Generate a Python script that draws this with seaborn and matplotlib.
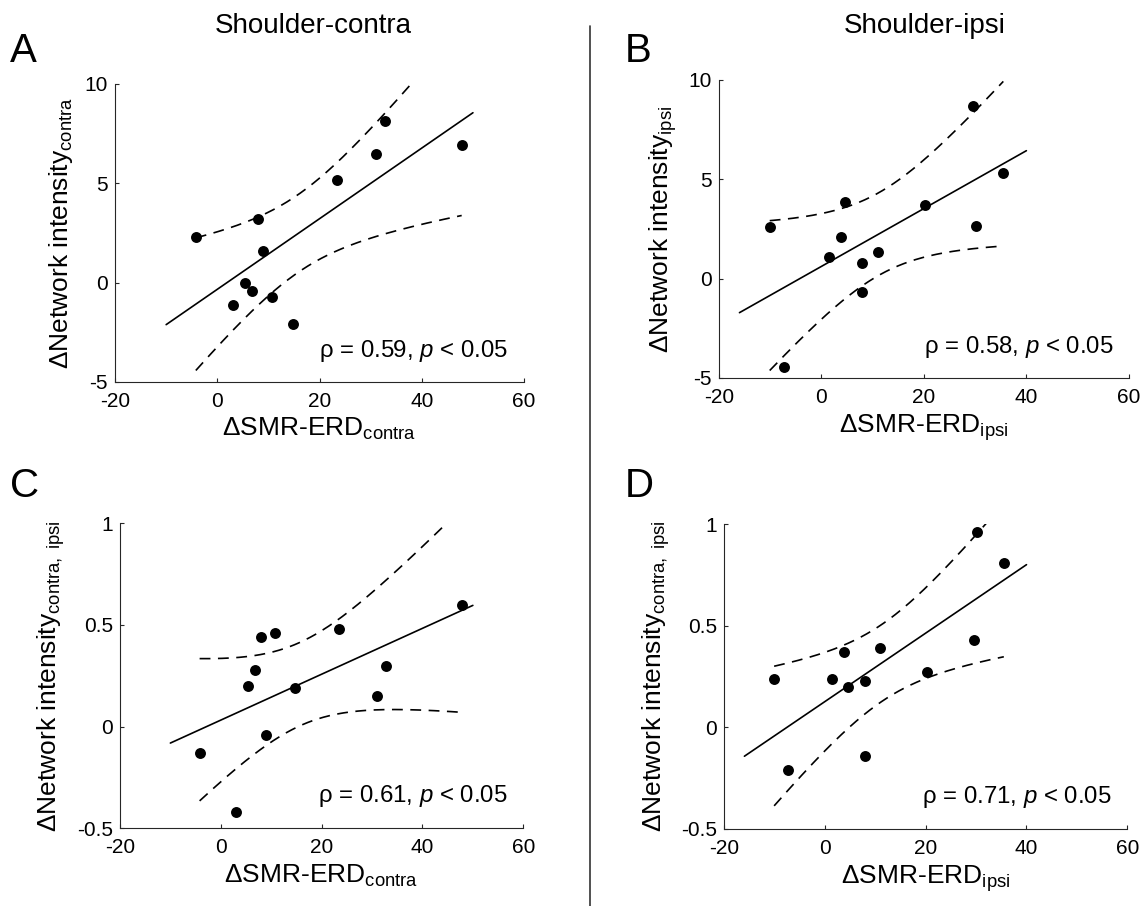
"""
Shoulder-contra / Shoulder-ipsi: network intensity vs. SMR-ERD change,
four scatter panels with OLS fit and simultaneous 95% confidence bands (dashed).
"""

import numpy as np
import matplotlib
matplotlib.use("Agg")
import matplotlib.pyplot as plt
from matplotlib.lines import Line2D
import seaborn as sns

# Data
SMR_CONTRA = [-4.2, 3.1, 5.4, 6.7, 8.0, 8.9, 10.7, 14.8, 23.4, 31.0, 32.8, 47.8]
SMR_IPSI = [-10.1, -7.4, 1.4, 3.8, 4.65, 7.85, 7.95, 10.95, 20.3, 29.6, 30.1, 35.5]

NET_A = [2.30, -1.12, 0.00, -0.44, 3.19, 1.61, -0.72, -2.06, 5.17, 6.46, 8.14, 6.93]
NET_B = [2.61, -4.46, 1.10, 2.11, 3.88, -0.69, 0.78, 1.34, 3.70, 8.68, 2.64, 5.32]
NET_C = [-0.13, -0.42, 0.20, 0.28, 0.44, -0.04, 0.46, 0.19, 0.48, 0.15, 0.30, 0.60]
NET_D = [0.24, -0.21, 0.24, 0.37, 0.20, 0.23, -0.14, 0.39, 0.27, 0.43, 0.96, 0.81]

FIT_RANGE_CONTRA = [-10, 50]
FIT_RANGE_IPSI = [-16, 40]

RHO = ["0.59", "0.58", "0.61", "0.71"]
PANEL_LETTERS = ["A", "B", "C", "D"]
COLUMN_TITLES = ["Shoulder-contra", "Shoulder-ipsi"]

X_TICKS = [-20, 0, 20, 40, 60]
Y_TICKS_TOP = [-5, 0, 5, 10]
Y_TICKS_BOTTOM = [-0.5, 0, 0.5, 1]

# Working-Hotelling factor sqrt(2 * F(0.95; 2, 10)) for n = 12
BAND_FACTOR = np.sqrt(2 * 4.1028)

sns.set_theme(style="white")
plt.rcParams["font.family"] = ["Liberation Sans", "DejaVu Sans"]
plt.rcParams["mathtext.fontset"] = "custom"
plt.rcParams["mathtext.rm"] = "Liberation Sans"
plt.rcParams["mathtext.it"] = "Liberation Sans:italic"
plt.rcParams["axes.unicode_minus"] = False
plt.rcParams["text.color"] = "black"
plt.rcParams["axes.labelcolor"] = "black"
plt.rcParams["xtick.color"] = "black"
plt.rcParams["ytick.color"] = "black"

fig = plt.figure(figsize=(11.48, 9.06), dpi=100)

panels = [
    dict(rect=[0.1002, 0.5784, 0.3563, 0.3289], x=SMR_CONTRA, y=NET_A,
         fit=FIT_RANGE_CONTRA, yticks=Y_TICKS_TOP,
         xlabel=r"ΔSMR-ERD$_{\mathrm{contra}}$",
         ylabel=r"ΔNetwork intensity$_{\mathrm{contra}}$"),
    dict(rect=[0.6263, 0.5828, 0.3570, 0.3289], x=SMR_IPSI, y=NET_B,
         fit=FIT_RANGE_IPSI, yticks=Y_TICKS_TOP,
         xlabel=r"ΔSMR-ERD$_{\mathrm{ipsi}}$",
         ylabel=r"ΔNetwork intensity$_{\mathrm{ipsi}}$"),
    dict(rect=[0.1045, 0.0858, 0.3513, 0.3366], x=SMR_CONTRA, y=NET_C,
         fit=FIT_RANGE_CONTRA, yticks=Y_TICKS_BOTTOM,
         xlabel=r"ΔSMR-ERD$_{\mathrm{contra}}$",
         ylabel=r"ΔNetwork intensity$_{\mathrm{contra,\ ipsi}}$"),
    dict(rect=[0.6309, 0.0850, 0.3510, 0.3366], x=SMR_IPSI, y=NET_D,
         fit=FIT_RANGE_IPSI, yticks=Y_TICKS_BOTTOM,
         xlabel=r"ΔSMR-ERD$_{\mathrm{ipsi}}$",
         ylabel=r"ΔNetwork intensity$_{\mathrm{contra,\ ipsi}}$"),
]

axis_color = "#262626"

for i, p in enumerate(panels):
    ax = fig.add_axes(p["rect"])
    x = np.asarray(p["x"])
    y = np.asarray(p["y"])

    # OLS fit + confidence band of the regression line
    n = len(x)
    slope, intercept = np.polyfit(x, y, 1)
    resid = y - (slope * x + intercept)
    s = np.sqrt(np.sum(resid ** 2) / (n - 2))
    sxx = np.sum((x - x.mean()) ** 2)

    xf = np.linspace(p["fit"][0], p["fit"][1], 50)
    ax.plot(xf, slope * xf + intercept, color="black", lw=1.2)

    xb = np.linspace(x.min(), x.max(), 200)
    yb = slope * xb + intercept
    half = BAND_FACTOR * s * np.sqrt(1 / n + (xb - x.mean()) ** 2 / sxx)
    for band in (yb + half, yb - half):
        ax.plot(xb, band, color="black", lw=1.2, dashes=(6.5, 4.5))

    sns.scatterplot(x=x, y=y, ax=ax, color="black", s=62,
                    edgecolor="black", linewidth=0, zorder=3)

    ax.set_xlim(X_TICKS[0], X_TICKS[-1])
    ax.set_ylim(p["yticks"][0], p["yticks"][-1])
    ax.set_xticks(X_TICKS)
    ax.set_yticks(p["yticks"])
    ax.set_xticklabels([f"{v:g}" for v in X_TICKS])
    ax.set_yticklabels([f"{v:g}" for v in p["yticks"]])

    sns.despine(ax=ax)
    for side in ("left", "bottom"):
        ax.spines[side].set_color(axis_color)
        ax.spines[side].set_linewidth(0.8)
    ax.tick_params(direction="in", length=3, width=0.8, color=axis_color,
                   labelsize=15, left=True, bottom=True)
    ax.tick_params(axis="x", pad=7)
    ax.tick_params(axis="y", pad=5)

    ax.set_xlabel(p["xlabel"], fontsize=19, labelpad=4)
    ax.set_ylabel(p["ylabel"], fontsize=19, labelpad=7)

    ax.text(0.962, 0.085, rf"ρ = {RHO[i]}, $p$ < 0.05", transform=ax.transAxes,
            ha="right", va="baseline", fontsize=17.3)

# panel letters
fig.text(0.0087, 0.9316, PANEL_LETTERS[0], fontsize=29, va="baseline")
fig.text(0.5444, 0.9316, PANEL_LETTERS[1], fontsize=29, va="baseline")
fig.text(0.0087, 0.4514, PANEL_LETTERS[2], fontsize=29, va="baseline")
fig.text(0.5444, 0.4514, PANEL_LETTERS[3], fontsize=29, va="baseline")

# column titles
fig.text(313 / 1148, 1 - 33 / 906, COLUMN_TITLES[0], fontsize=20,
         ha="center", va="baseline")
fig.text(925 / 1148, 1 - 33 / 906, COLUMN_TITLES[1], fontsize=20,
         ha="center", va="baseline")

# vertical separator
fig.add_artist(Line2D([590 / 1148, 590 / 1148], [0, 1 - 26 / 906],
                      transform=fig.transFigure, color="#333333", lw=1.2))

fig.savefig("out.png", dpi=100)
plt.close(fig)
